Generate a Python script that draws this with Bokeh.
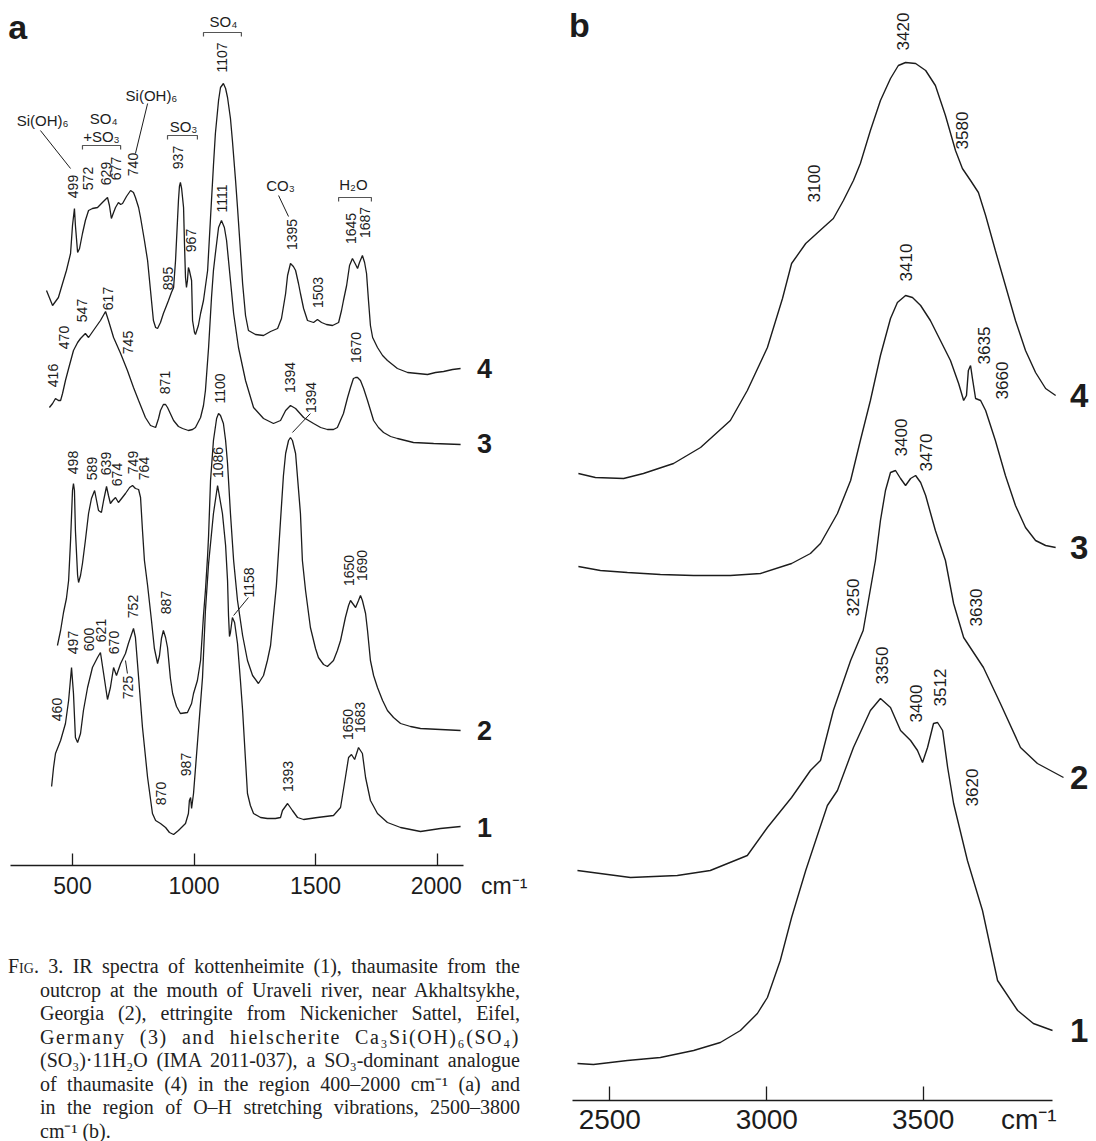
from math import pi
from bokeh.plotting import figure
from bokeh.models import Range1d, FixedTicker, Div
from bokeh.layouts import row, column
from bokeh.core.properties import value
from bokeh.embed import file_html
from bokeh.resources import INLINE

INK = "#1c1c1c"
FONT = "Liberation Sans"
NB = "\u00a0"

# ---------------- panel a : 400-2000 cm-1 (wavenumber, offset absorbance) -------------
A4 = [(393,575),(418,560),(442,568),(459,582),(475,595),(492,612),(500,640),(508,657),(512,640),(521,613),
      (529,617),(541,632),(553,645),(566,655),(582,657),(603,658),(623,663),(644,668),(652,660),(660,647),
      (669,653),(677,658),(689,663),(698,661),(706,662),(722,669),(739,675),(751,673),(759,668),(772,658),
      (780,648),(796,625),(809,605),(821,575),(833,545),(842,538),(850,537),(862,543),(874,552),(887,560),
      (895,565),(907,573),(916,578),(924,605),(932,645),(936,665),(940,679),(944,683),(949,677),(957,658),
      (961,620),(965,588),(969,578),(973,585),(977,598),(981,595),(990,585),(994,545),(1002,533),(1006,531),
      (1018,540),(1027,552),(1039,565),(1056,595),(1068,648),(1080,700),(1088,732),(1101,765),(1109,778),
      (1121,782),(1130,777),(1138,768),(1150,747),(1158,725),(1171,685),(1179,658),(1191,615),(1200,582),
      (1212,550),(1224,535),(1253,531),(1286,530),(1315,534),(1344,537),(1360,547),(1377,572),(1385,590),
      (1397,602),(1409,599),(1418,595),(1430,582),(1438,572),(1451,557),(1467,545),(1492,543),(1508,546),
      (1525,543),(1545,541),(1570,540),(1595,543),(1607,555),(1615,565),(1628,580),(1640,600),(1652,607),
      (1665,601),(1673,597),(1681,603),(1693,610),(1702,603),(1710,592),(1718,565),(1726,540),(1735,528),
      (1755,518),(1776,510),(1796,505),(1837,497),(1879,493),(1920,492),(1961,491),(1994,493),(2027,494),
      (2064,496),(2097,497)]
A3 = [(405,458),(418,462),(430,467),(442,465),(451,465),(459,472),(471,485),(484,497),(504,515),(521,523),
      (533,527),(553,532),(566,528),(586,535),(615,545),(636,554),(648,545),(669,528),(698,512),(726,495),
      (751,478),(772,465),(800,448),(821,440),(842,438),(854,447),(862,455),(874,461),(883,461),(891,458),
      (916,445),(936,439),(953,437),(977,435),(994,436),(1006,438),(1027,448),(1039,460),(1047,475),(1060,518),
      (1072,568),(1080,595),(1088,612),(1101,638),(1113,645),(1125,638),(1134,625),(1142,605),(1150,585),
      (1163,552),(1183,518),(1212,485),(1245,458),(1286,447),(1327,442),(1356,445),(1377,455),(1397,460),
      (1418,457),(1451,448),(1492,442),(1521,438),(1549,436),(1574,436),(1590,438),(1615,452),(1632,468),
      (1644,478),(1656,487),(1665,488),(1673,488),(1685,485),(1698,477),(1714,465),(1739,445),(1759,438),
      (1780,433),(1809,429),(1837,427),(1903,423),(1986,422),(2097,421)]
A2 = [(438,220),(451,235),(463,253),(475,267),(484,285),(492,325),(500,375),(504,382),(508,375),(512,335),
      (521,290),(525,283),(533,290),(541,302),(553,325),(566,352),(578,367),(591,375),(599,365),(607,355),
      (619,353),(628,365),(640,379),(648,370),(656,362),(665,365),(677,368),(689,363),(702,367),(718,372),
      (735,378),(747,380),(759,377),(772,376),(780,368),(788,335),(796,305),(809,280),(825,245),(837,217),
      (850,202),(858,210),(866,227),(874,235),(883,228),(891,218),(903,187),(912,172),(928,159),(944,152),
      (973,153),(990,162),(998,172),(1014,185),(1027,205),(1039,250),(1047,275),(1056,310),(1060,330),
      (1068,385),(1080,425),(1093,447),(1101,452),(1109,450),(1121,442),(1130,425),(1138,402),(1150,352),
      (1163,305),(1179,265),(1200,230),(1220,205),(1241,190),(1265,182),(1286,190),(1302,205),(1315,220),
      (1327,250),(1339,280),(1356,345),(1368,390),(1377,412),(1389,425),(1397,428),(1405,425),(1418,412),
      (1438,352),(1446,305),(1459,275),(1479,238),(1500,217),(1512,208),(1533,201),(1549,199),(1574,205),
      (1590,215),(1603,225),(1623,248),(1636,260),(1644,265),(1656,261),(1665,258),(1677,265),(1685,270),
      (1693,265),(1706,252),(1714,235),(1726,205),(1739,190),(1755,178),(1776,165),(1796,155),(1821,148),
      (1850,142),(1891,139),(1932,137),(2014,136),(2097,135)]
A1 = [(414,79),(422,98),(430,112),(451,125),(471,142),(484,165),(496,198),(504,172),(512,128),(521,123),
      (533,132),(545,155),(562,178),(582,198),(603,208),(615,213),(628,192),(644,166),(656,178),(669,198),
      (681,190),(698,202),(718,212),(730,222),(751,237),(759,228),(772,188),(788,138),(809,88),(829,52),
      (842,45),(862,42),(883,38),(899,33),(916,31),(936,35),(965,42),(977,52),(981,65),(986,68),(990,57),
      (998,72),(1014,122),(1035,188),(1047,255),(1060,302),(1080,352),(1097,380),(1117,352),(1130,320),
      (1138,285),(1142,250),(1146,229),(1150,233),(1158,248),(1167,243),(1179,222),(1191,185),(1200,155),
      (1212,105),(1220,72),(1232,60),(1245,52),(1274,48),(1302,47),(1335,47),(1356,48),(1364,55),(1385,62),
      (1405,55),(1426,48),(1451,46),(1508,48),(1574,50),(1603,58),(1623,88),(1636,108),(1648,111),(1661,106),
      (1677,118),(1693,112),(1706,88),(1726,65),(1755,52),(1796,43),(1850,38),(1932,34),(2014,37),(2097,39)]

A_TICKS = [500, 1000, 1500, 2000]
A_PEAK_TEXT = ["499","572","629","677","740","937","967","895","1107","1111","1395","1503","1645","1687",
               "416","470","547","617","745","871","1100","1394","1394","1670",
               "498","589","639","674","749","764","1086","887","1158","1650","1690",
               "460","497","600","621","670","725","752","870","987","1393","1650","1683"]
A_PEAK_X = [504,562,636,677,747,936,986,891,1117,1117,1405,1512,1648,1702,
            418,467,541,648,730,879,1109,1397,1483,1665,
            504,582,636,685,747,796,1097,883,1228,1636,1693,
            438,500,566,619,669,730,751,866,969,1385,1632,1685]
A_PEAK_Y = [679,687,692,697,701,708,625,587,808,667,631,573,637,643,
            490,528,555,567,523,483,477,488,468,518,
            403,397,402,391,403,397,403,263,283,295,300,
            156,223,226,235,223,178,259,72,101,89,141,148]
A_GROUP_TEXT = ["Si(OH)\u2086", "SO\u2084", "+SO\u2083", "Si(OH)\u2086", "SO\u2083", "SO\u2084", "CO\u2083", "H\u2082O"]
A_GROUP_X = [377, 628, 619, 825, 957, 1121, 1356, 1656]
A_GROUP_Y = [745, 747, 729, 770, 739, 844, 680, 681]
A_BRACKET_X0 = [541, 891, 1039, 1595]
A_BRACKET_X1 = [698, 1014, 1195, 1730]
A_BRACKET_Y = [720, 730, 833, 668]
A_LEADER = [(368,735,492,697), (809,762,759,712), (1348,670,1389,649),
            (1479,452,1405,433), (1224,268,1163,250), (718,205,726,192)]
A_CURVE_NAMES = ["4", "3", "2", "1"]
A_CURVE_END_Y = [497, 422, 135, 38]

# ---------------- panel b : O-H stretching region -------------
B4 = [(2400,627),(2454,623),(2544,622),(2607,627),(2703,637),(2789,653),(2884,680),(2938,710),(3002,753),
      (3050,802),(3079,837),(3124,857),(3180,873),(3212,882),(3244,900),(3276,920),(3298,937),(3330,970),
      (3362,1000),(3394,1022),(3419,1035),(3442,1038),(3474,1037),(3506,1030),(3537,1015),(3569,985),
      (3601,950),(3623,932),(3649,920),(3674,908),(3697,885),(3728,850),(3760,815),(3792,780),(3824,750),
      (3856,728),(3888,712),(3920,705)]
B3 = [(2400,534),(2470,530),(2556,528),(2661,526),(2767,525),(2884,525),(2980,527),(3079,537),(3139,547),
      (3171,557),(3225,587),(3267,620),(3298,660),(3330,700),(3362,745),(3394,782),(3416,798),(3442,805),
      (3464,803),(3490,795),(3521,780),(3553,760),(3585,740),(3611,717),(3627,700),(3636,705),(3642,730),
      (3649,735),(3655,722),(3665,702),(3681,700),(3697,690),(3728,660),(3760,625),(3792,595),(3824,573),
      (3856,560),(3888,555),(3920,553)]
B2 = [(2397,230),(2566,223),(2715,225),(2820,230),(2938,245),(3002,273),(3079,303),(3139,330),(3171,340),
      (3212,390),(3267,440),(3307,470),(3346,540),(3362,580),(3378,610),(3394,628),(3410,630),(3426,622),
      (3442,615),(3458,622),(3474,625),(3490,618),(3506,605),(3521,588),(3537,570),(3553,555),(3569,540),
      (3595,497),(3627,463),(3690,433),(3744,397),(3808,353),(3862,337),(3945,323)]
B1 = [(2397,37),(2448,36),(2556,40),(2661,43),(2767,50),(2852,58),(2916,70),(2970,87),(3002,103),(3043,140),
      (3079,183),(3124,230),(3161,265),(3193,295),(3225,310),(3276,353),(3330,390),(3362,402),(3394,393),
      (3426,370),(3458,360),(3480,350),(3496,338),(3512,353),(3531,377),(3544,378),(3560,370),(3576,333),
      (3595,297),(3639,240),(3687,190),(3735,120),(3799,90),(3849,77),(3910,70)]

B_TICKS = [2500, 3000, 3500]
B_PEAK_TEXT = ["3420","3580","3100","3410","3635","3660","3400","3470","3250","3630","3350","3400","3512","3620"]
B_PEAK_X = [3435,3623,3149,3442,3693,3750,3426,3506,3276,3665,3368,3474,3553,3655]
B_PEAK_Y = [1069,970,917,838,755,720,663,648,503,493,435,397,413,313]
B_CURVE_NAMES = ["4", "3", "2", "1"]
B_CURVE_END_Y = [705, 553, 323, 70]
UNIT = "cm\u207b\u00b9"

CAPTION_LINES = [
    '<span style="font-variant:small-caps">Fig</span>. 3. IR spectra of kottenheimite (1), thaumasite from the',
    'outcrop at the mouth of Uraveli river, near Akhaltsykhe,',
    'Georgia (2), ettringite from Nickenicher Sattel, Eifel,',
    'Germany (3) and hielscherite Ca\u2083Si(OH)\u2086(SO\u2084)',
    '(SO\u2083)·11H\u2082O (IMA 2011-037), a SO\u2083-dominant analogue',
    'of thaumasite (4) in the region 400–2000 cm\u207b\u00b9 (a) and',
    'in the region of O–H stretching vibrations, 2500–3800',
    'cm\u207b\u00b9 (b).',
]


def unzip(pairs):
    return [q[0] for q in pairs], [q[1] for q in pairs]


def panel(width, height, xr, ytop, bl, bb, bounds, ticks, tick_px, standoff, tick_len, overrides):
    p = figure(width=width, height=height, x_range=Range1d(*xr), y_range=Range1d(0, ytop),
               output_backend="svg", toolbar_location=None, y_axis_location=None,
               min_border_left=bl, min_border_right=0, min_border_top=0, min_border_bottom=bb)
    p.outline_line_color = None
    p.background_fill_color = "white"
    p.border_fill_color = "white"
    p.xgrid.visible = False
    p.ygrid.visible = False
    ax = p.xaxis[0]
    ax.ticker = FixedTicker(ticks=ticks)
    ax.bounds = bounds
    ax.major_tick_in = tick_len
    ax.major_tick_out = 0
    ax.minor_tick_line_color = None
    ax.axis_line_color = INK
    ax.axis_line_width = 1.3
    ax.major_tick_line_color = INK
    ax.major_tick_line_width = 1.3
    ax.major_label_text_font = FONT
    ax.major_label_text_font_size = tick_px
    ax.major_label_text_color = INK
    ax.major_label_standoff = standoff
    ax.major_label_overrides = overrides
    return p


def rot_labels(p, xs, ys, texts, size):
    p.text(x=xs, y=ys, text=texts, angle=pi / 2, text_align="center", text_baseline="middle",
           text_font=value(FONT), text_font_size=size, text_color=INK)


# ---------------- panel a figure ----------------
a_last = A_TICKS[-1]
pa = panel(538, 905, (203.7, 2417.6), 865, 0, 40, (245, 2111), A_TICKS, "23px", 7, 12,
           {a_last: NB * 10 + str(a_last) + NB * 3 + UNIT})
for data in (A4, A3, A2, A1):
    x, y = unzip(data)
    pa.line(x, y, line_color=INK, line_width=1.3)
rot_labels(pa, A_PEAK_X, A_PEAK_Y, A_PEAK_TEXT, "14px")
pa.text(x=A_GROUP_X, y=A_GROUP_Y, text=A_GROUP_TEXT, text_align="center", text_baseline="middle",
        text_font=value(FONT), text_font_size="15px", text_color=INK)
bx, by = [], []
for x0, x1, yb in zip(A_BRACKET_X0, A_BRACKET_X1, A_BRACKET_Y):
    bx.append([x0, x0, x1, x1])
    by.append([yb - 4, yb, yb, yb - 4])
pa.multi_line(bx, by, line_color="#555555", line_width=1.2)
pa.segment(x0=[l[0] for l in A_LEADER], y0=[l[1] for l in A_LEADER],
           x1=[l[2] for l in A_LEADER], y1=[l[3] for l in A_LEADER], line_color=INK, line_width=1)
pa.text(x=[2195] * 4, y=A_CURVE_END_Y, text=A_CURVE_NAMES, text_align="center", text_baseline="middle",
        text_font=value(FONT), text_font_size="27px", text_font_style="bold", text_color=INK)
pa.text(x=[274], y=[839], text=["a"], text_align="center", text_baseline="middle",
        text_font=value(FONT), text_font_size="34px", text_font_style="bold", text_color=INK)

# ---------------- panel b figure ----------------
b_last = B_TICKS[-1]
pb = panel(558, 1141, (2343.0, 4050.1), 1100, 22, 41, (2381, 3910), B_TICKS, "28px", 3, 14,
           {b_last: NB * 13 + str(b_last) + NB * 6 + UNIT})
for data in (B4, B3, B2, B1):
    x, y = unzip(data)
    pb.line(x, y, line_color=INK, line_width=1.4)
rot_labels(pb, B_PEAK_X, B_PEAK_Y, B_PEAK_TEXT, "17px")
pb.text(x=[3995] * 4, y=B_CURVE_END_Y, text=B_CURVE_NAMES, text_align="center", text_baseline="middle",
        text_font=value(FONT), text_font_size="33px", text_font_style="bold", text_color=INK)
pb.text(x=[2403], y=[1076], text=["b"], text_align="center", text_baseline="middle",
        text_font=value(FONT), text_font_size="34px", text_font_style="bold", text_color=INK)

# ---------------- caption ----------------
rows = []
for i, line in enumerate(CAPTION_LINES):
    last = i == len(CAPTION_LINES) - 1
    indent = "0px" if i == 0 else "32px"
    extra = "letter-spacing:1.6px;" if i == 3 else ""
    align = "text-align:left;" if last else "text-align:justify;text-align-last:justify;"
    rows.append(f'<div style="white-space:nowrap;padding-left:{indent};{align}{extra}">{line}</div>')
html = ('<div style="margin-left:8px;width:512px;padding-top:50px;font-family:\'Liberation Serif\',serif;'
        'font-size:20px;line-height:23.5px;color:#222;">' + "".join(rows) + "</div>")
cap = Div(text=html, width=538, height=236, margin=(0, 0, 0, 0), styles={"overflow": "hidden"})

layout = row(column(pa, cap), pb)
open("out.html", "w").write(file_html(layout, INLINE))
